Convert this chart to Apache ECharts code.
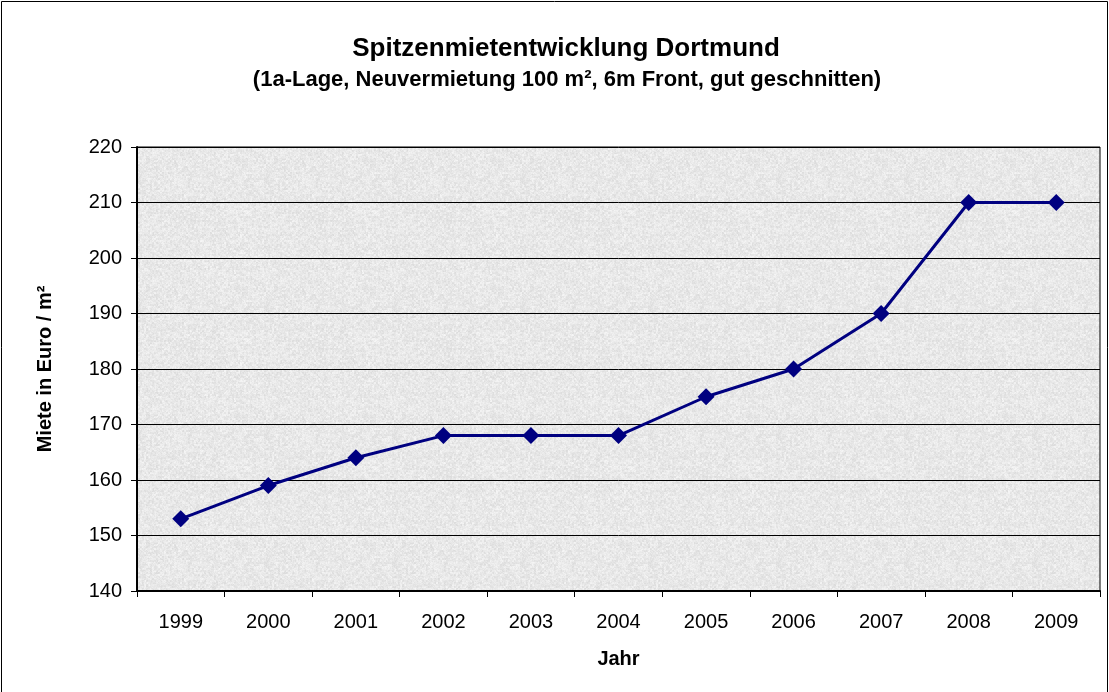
<!DOCTYPE html>
<html>
<head>
<meta charset="utf-8">
<script src="https://cdn.jsdelivr.net/npm/echarts@6/dist/echarts.min.js"></script>
<style>
  html, body { margin: 0; padding: 0; background: #fff; }
  #chart { width: 1109px; height: 692px; }
</style>
</head>
<body>
<div id="chart"></div>
<script>
const years = ['1999', '2000', '2001', '2002', '2003', '2004', '2005', '2006', '2007', '2008', '2009']
const miete = [153, 159, 164, 168, 168, 168, 175, 180, 190, 210, 210]
const yTicks = { min: 140, max: 220, step: 10 }

const font = 'Liberation Sans, Arial, sans-serif'

// granit-artige Hintergrundtextur (deterministisch, kein Zufall)
function makeTexture() {
  let c = document.createElement('canvas')
  c.width = 128
  c.height = 128
  let ctx = c.getContext('2d')
  let img = ctx.createImageData(128, 128)
  for (let y = 0; y < 128; y++) {
    for (let x = 0; x < 128; x++) {
      let h = Math.sin(x * 12.9898 + y * 78.233) * 43758.5453
      h = h - Math.floor(h)
      let h2 = Math.sin((x >> 1) * 39.346 + (y >> 1) * 11.135) * 24634.6345
      h2 = h2 - Math.floor(h2)
      let v = 246 - h * 12 - h2 * 16
      let i = (y * 128 + x) * 4
      img.data[i] = img.data[i + 1] = img.data[i + 2] = v
      img.data[i + 3] = 255
    }
  }
  ctx.putImageData(img, 0, 0)
  return c
}

let chart = echarts.init(document.getElementById('chart'))
let option = {
  backgroundColor: '#fff',
  animation: false,
  title: [{
    text: 'Spitzenmietentwicklung Dortmund',
    left: 561, top: 31, textAlign: 'center',
    textStyle: { fontFamily: font, fontWeight: 'bold', fontSize: 26, color: '#000' }
  }, {
    text: '(1a-Lage, Neuvermietung 100 m², 6m Front, gut geschnitten)',
    left: 562, top: 64, textAlign: 'center',
    textStyle: { fontFamily: font, fontWeight: 'bold', fontSize: 22, color: '#000' }
  }],
  graphic: [{
    type: 'rect',
    shape: { x: 1.5, y: 1.5, width: 1106, height: 700 },
    style: { fill: 'none', stroke: '#000', lineWidth: 1 }
  }],
  grid: {
    left: 137, right: 9, top: 147, bottom: 101,
    show: true,
    backgroundColor: { image: makeTexture(), repeat: 'repeat' },
    borderColor: '#000',
    borderWidth: 1
  },
  xAxis: {
    type: 'category',
    data: years,
    boundaryGap: true,
    name: 'Jahr',
    nameLocation: 'middle',
    nameGap: 58,
    nameTextStyle: { fontFamily: font, fontWeight: 'bold', fontSize: 20, color: '#000' },
    axisLine: { lineStyle: { color: '#000', width: 2 } },
    axisTick: { show: true, length: 6, lineStyle: { color: '#000' } },
    axisLabel: { fontFamily: font, fontSize: 20, color: '#000', margin: 21 }
  },
  yAxis: {
    type: 'value',
    min: yTicks.min, max: yTicks.max, interval: yTicks.step,
    name: 'Miete in Euro / m²',
    nameLocation: 'middle',
    nameGap: 82,
    nameRotate: 90,
    nameTextStyle: { fontFamily: font, fontWeight: 'bold', fontSize: 20, color: '#000' },
    axisLine: { show: true, lineStyle: { color: '#000', width: 2 } },
    axisTick: { show: true, length: 6, lineStyle: { color: '#000' } },
    axisLabel: { fontFamily: font, fontSize: 20, color: '#000', margin: 15 },
    splitLine: { show: true, lineStyle: { color: '#000', width: 1 } }
  },
  series: [{
    type: 'line',
    data: miete,
    symbol: 'diamond',
    symbolSize: 17,
    lineStyle: { color: '#000080', width: 3 },
    itemStyle: { color: '#000080' }
  }]
}
chart.setOption(option)
</script>
</body>
</html>
